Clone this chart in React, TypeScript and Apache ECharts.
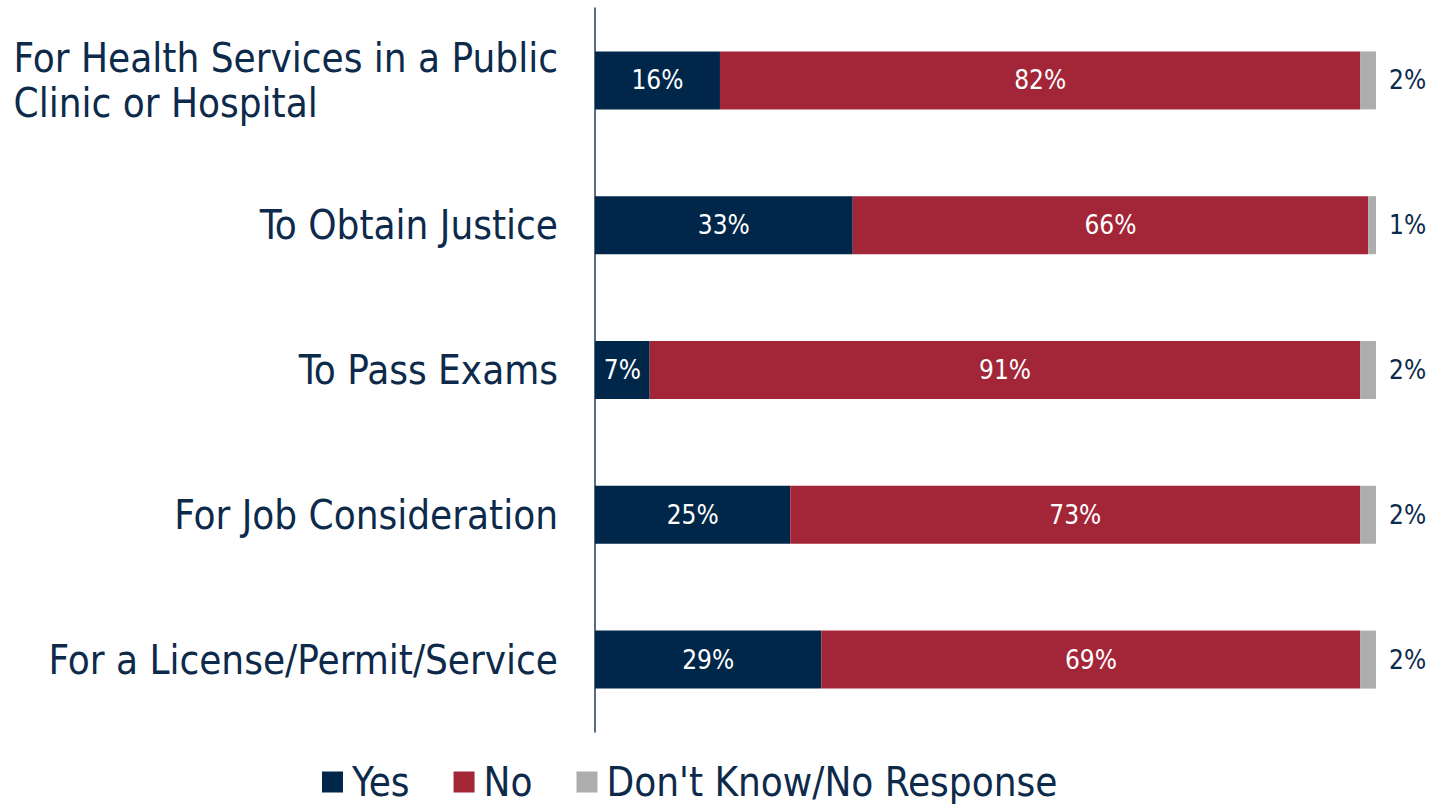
import React, { useEffect, useRef } from "react";
import * as echarts from "echarts";

const categories = [
  "For Health Services in a Public\nClinic or Hospital",
  "To Obtain Justice",
  "To Pass Exams",
  "For Job Consideration",
  "For a License/Permit/Service",
];
const yesValues = [16, 33, 7, 25, 29];
const noValues = [82, 66, 91, 73, 69];
const dkValues = [2, 1, 2, 2, 2];
const seriesNames = ["Yes", "No", "Don't Know/No Response"];

const NAVY = "#002649";
const RED = "#A32638";
const GRAY = "#ADADAD";
const TEXT = "#0D2A4B";
const CAT_FONT = "'DejaVu Sans Condensed', 'DejaVu Sans', sans-serif";
const NUM_FONT = "'DejaVu Sans Condensed', 'DejaVu Sans', sans-serif";

export default function App() {
  const ref = useRef<HTMLDivElement>(null);
  useEffect(() => {
    if (!ref.current) return;
    const chart = echarts.init(ref.current, null, { renderer: "svg" });
    const barW = 58;
    const insideLabel = {
      show: true,
      position: "inside",
      color: "#ffffff",
      fontFamily: NUM_FONT,
      fontSize: 26,
      formatter: "{c}%",
    };
    chart.setOption({
      animation: false,
      backgroundColor: "#ffffff",
      grid: {
        left: 595,
        right: 57,
        top: 8,
        bottom: 72,
        containLabel: false,
        outerBoundsMode: "none",
      },
      xAxis: {
        type: "value",
        min: 0,
        max: 100,
        show: false,
      },
      yAxis: {
        type: "category",
        inverse: true,
        data: categories,
        axisLine: { show: true, lineStyle: { color: "#1F3A5A", width: 1.5 } },
        axisTick: { show: false },
        splitLine: { show: false },
        axisLabel: {
          margin: 37,
          color: TEXT,
          fontFamily: CAT_FONT,
          fontSize: 40,
          formatter: (v: string) =>
            v
              .split("\n")
              .map((line) => `{a|${line}}`)
              .join("\n"),
          rich: {
            a: {
              align: "left",
              color: TEXT,
              fontFamily: CAT_FONT,
              fontSize: 40,
              lineHeight: 45,
            },
          },
        },
      },
      legend: {
        data: seriesNames,
        left: 322,
        top: 758,
        padding: 0,
        icon: "rect",
        itemWidth: 21,
        itemHeight: 21,
        itemGap: 44,
        textStyle: {
          color: TEXT,
          fontFamily: CAT_FONT,
          fontSize: 40,
          lineHeight: 48,
          padding: [0, 0, 0, 4],
        },
      },
      series: [
        {
          name: seriesNames[0],
          type: "bar",
          stack: "total",
          barWidth: barW,
          data: yesValues,
          itemStyle: { color: NAVY },
          label: insideLabel,
        },
        {
          name: seriesNames[1],
          type: "bar",
          stack: "total",
          barWidth: barW,
          data: noValues,
          itemStyle: { color: RED },
          label: insideLabel,
        },
        {
          name: seriesNames[2],
          type: "bar",
          stack: "total",
          barWidth: barW,
          data: dkValues,
          itemStyle: { color: GRAY },
          label: {
            show: true,
            position: "right",
            distance: 13,
            color: TEXT,
            fontFamily: NUM_FONT,
            fontSize: 26,
            formatter: "{c}%",
          },
        },
      ],
    });
    return () => chart.dispose();
  }, []);
  return (
    <div
      ref={ref}
      style={{ position: "absolute", left: 0, top: 0, width: 1433, height: 804 }}
    />
  );
}
